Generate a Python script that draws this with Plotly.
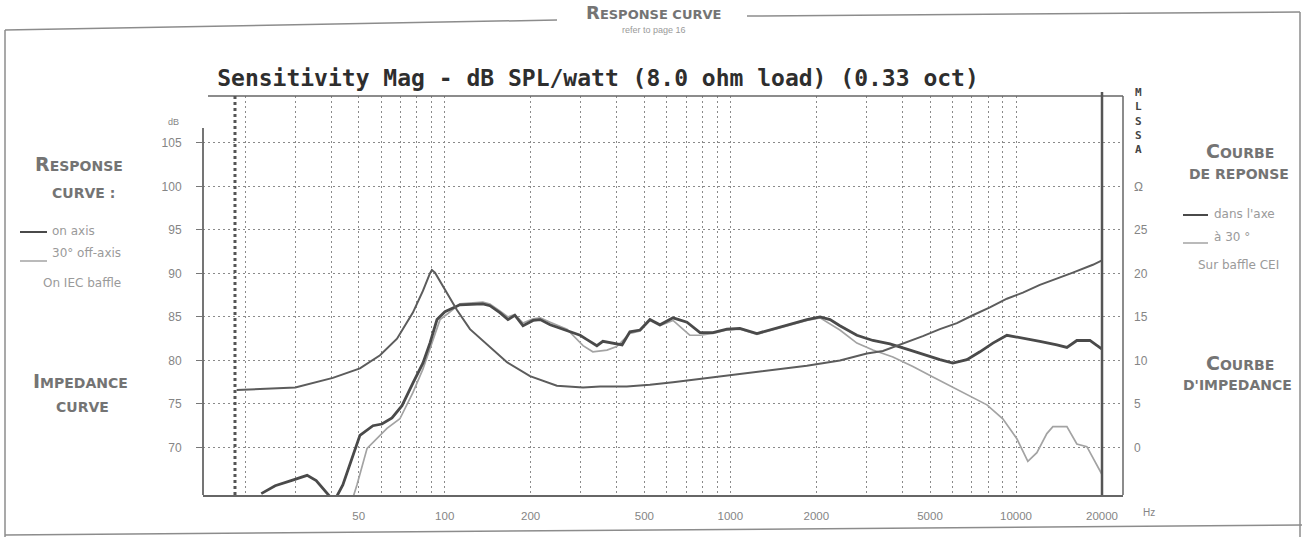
import plotly.graph_objects as go

# ---------------- data ----------------
# on-axis response (Hz, dB SPL)
FREQ_ON = [22.8, 25.5, 29.0, 33.0, 35.5, 38.5, 41.0, 44.0, 50.5, 56.1, 60.3, 65.4, 70.9,
           77.4, 83.9, 88.8, 94.0, 100.2, 113, 136, 144, 156, 166.5, 176, 188, 204, 216,
           234, 268, 298, 315, 341, 358, 388, 418, 445, 483, 523, 567, 630, 705, 783,
           869, 973, 1080, 1239, 1410, 1616, 1853, 2061, 2234, 2418, 2773, 3155, 3619,
           4150, 4720, 5415, 6010, 6730, 7475, 8300, 9290, 10570, 12120, 13900, 15070,
           16330, 18140, 20000]
SPL_ON = [64.7, 65.6, 66.2, 66.8, 66.2, 64.9, 63.8, 65.7, 71.4, 72.5, 72.7, 73.4, 74.8,
          77.4, 79.7, 82.0, 84.7, 85.6, 86.4, 86.5, 86.3, 85.5, 84.7, 85.2, 84.0, 84.6, 84.7,
          84.1, 83.4, 82.9, 82.4, 81.7, 82.2, 82.0, 81.8, 83.3, 83.5, 84.7, 84.1, 84.9, 84.4, 83.2,
          83.2, 83.6, 83.7, 83.1, 83.6, 84.2, 84.7, 85.0, 84.7, 84.0, 82.9, 82.3, 81.9,
          81.3, 80.7, 80.1, 79.7, 80.1, 81.0, 82.0, 82.9, 82.6, 82.2, 81.8, 81.5,
          82.3, 82.3, 81.3]

# 30 degrees off-axis response (Hz, dB SPL)
FREQ_OFF = [47, 49.3, 53.5, 62.8, 69.7, 77.4, 83.9, 91.0, 96.3, 102.7, 113, 136, 144, 156,
            166.5, 176, 188, 204, 216, 234, 268, 305, 330, 370, 400, 445, 483, 523, 567,
            630, 721, 783, 869, 973, 1080, 1239, 1410, 1616, 1853, 2061, 2418, 2773, 3155,
            3707, 4355, 5117, 6010, 7060, 7910, 8990, 10070, 11000, 11830, 12820, 13460,
            15070, 16330, 17700, 20000]
SPL_OFF = [63.5, 65.7, 69.9, 72.2, 73.3, 76.3, 79.0, 82.4, 84.7, 85.4, 86.5, 86.7, 86.5, 85.7,
           85.0, 85.3, 84.3, 84.8, 84.9, 84.4, 83.6, 81.7, 81.0, 81.2, 81.6, 83.1, 83.4, 84.6, 84.0,
           84.6, 82.9, 82.9, 83.1, 83.5, 83.6, 83.0, 83.5, 84.1, 84.6, 84.9, 83.5, 82.0, 81.2,
           80.4, 79.3, 78.1, 76.9, 75.7, 74.9, 73.3, 71.0, 68.4, 69.4, 71.6, 72.4,
           72.4, 70.4, 70.1, 66.9]

# impedance (Hz, ohm)
FREQ_Z = [18.7, 30, 40.6, 50.5, 59.4, 68.1, 77.4, 83.9, 88.8, 90.2, 92.5, 98.6, 110.4, 122.6,
          140.6, 165.2, 198.9, 247, 305, 350, 434, 523, 630, 828, 1080, 1410, 1853, 2418,
          3006, 3420, 4150, 4720, 5415, 6210, 7060, 8100, 9290, 10570, 12120, 13900, 15810,
          18580, 20000]
OHM_Z = [6.6, 6.9, 8.0, 9.1, 10.6, 12.5, 15.5, 18.0, 20.0, 20.4, 20.1, 18.5, 15.8, 13.6,
         11.9, 9.8, 8.2, 7.1, 6.9, 7.0, 7.0, 7.2, 7.5, 8.0, 8.4, 8.9, 9.4, 10.0,
         10.8, 11.1, 12.1, 12.8, 13.6, 14.3, 15.2, 16.1, 17.1, 17.8, 18.7, 19.4, 20.1,
         21.0, 21.5]

# axes / ticks
X_TICKS = [50, 100, 200, 500, 1000, 2000, 5000, 10000, 20000]
X_TICK_TEXT = ["50", "100", "200", "500", "1000", "2000", "5000", "10000", "20000"]
X_MINOR = [20, 30, 40, 60, 70, 80, 90, 300, 400, 600, 700, 800, 900,
           3000, 4000, 6000, 7000, 8000, 9000]
DB_TICKS = [70, 75, 80, 85, 90, 95, 100, 105]
OHM_TICKS = [0, 5, 10, 15, 20, 25, 30]
OHM_TICK_TEXT = ["0", "5", "10", "15", "20", "25", "Ω"]
LOW_LIMIT_HZ = 18.45
HIGH_LIMIT_HZ = 20000
OHM_OFFSET = 70  # 0 ohm sits on the 70 dB grid line

# ---------------- layout helpers ----------------
W, H = 1302, 537
ML, MR, MT, MB = 203, 179, 96, 42
PW = W - ML - MR
PH = H - MT - MB
Y_RANGE = [64.54, 110.4]
X_RANGE = [1.154, 4.3745]


def px(x):
    return (x - ML) / PW


def py(y):
    return (H - MB - y) / PH


GREY_TXT = "#858585"
HEAD_TXT = "#747474"
SMALL_TXT = "#9a9a9a"
SANS = "Liberation Sans, Arial, sans-serif"
WIDE = "DejaVu Sans, Verdana, sans-serif"
GRID_COL = "#8a8a8a"
GRID_DASH = "2px,3px"

fig = go.Figure()

fig.add_trace(go.Scatter(x=FREQ_Z, y=OHM_Z, yaxis="y2", mode="lines",
                         line=dict(color="#5c5c5c", width=2), name="impedance",
                         showlegend=False))
fig.add_trace(go.Scatter(x=FREQ_OFF, y=SPL_OFF, mode="lines",
                         line=dict(color="#a3a3a3", width=1.7), name="30° off-axis",
                         showlegend=False))
fig.add_trace(go.Scatter(x=FREQ_ON, y=SPL_ON, mode="lines",
                         line=dict(color="#4a4a4a", width=2.8), name="on axis",
                         showlegend=False))

grid = dict(gridcolor=GRID_COL, griddash=GRID_DASH, gridwidth=1)

fig.update_layout(
    width=W, height=H,
    margin=dict(l=ML, r=MR, t=MT, b=MB, pad=0),
    paper_bgcolor="white", plot_bgcolor="white",
    showlegend=False,
    title=dict(text="Sensitivity Mag - dB SPL/watt (8.0 ohm load) (0.33 oct)",
               x=598 / W, xref="container", xanchor="center",
               y=1 - 78 / H, yref="container", yanchor="middle",
               font=dict(family="DejaVu Sans Mono, monospace", size=23,
                         color="#2e2e2e", weight="bold")),
    xaxis=dict(type="log", range=X_RANGE, tickmode="array", tickvals=X_TICKS,
               ticktext=X_TICK_TEXT, showgrid=True, **grid,
               minor=dict(tickmode="array", tickvals=X_MINOR, showgrid=True,
                          gridcolor=GRID_COL, griddash=GRID_DASH, gridwidth=1, ticks=""),
               ticks="", showline=True, linecolor="#666666", linewidth=2,
               ticklabelstandoff=9, automargin=False,
               tickfont=dict(family=SANS, size=11.5, color=GREY_TXT),
               zeroline=False, fixedrange=True),
    yaxis=dict(range=Y_RANGE, tickmode="array", tickvals=DB_TICKS, showgrid=True, **grid,
               ticks="outside", ticklen=6, tickcolor="#777777", tickwidth=1,
               showline=False, ticklabelstandoff=12, automargin=False,
               tickfont=dict(family=SANS, size=12, color=GREY_TXT),
               zeroline=False, fixedrange=True),
    yaxis2=dict(overlaying="y", side="right",
                range=[Y_RANGE[0] - OHM_OFFSET, Y_RANGE[1] - OHM_OFFSET],
                tickmode="array", tickvals=OHM_TICKS, ticktext=OHM_TICK_TEXT,
                showgrid=False, ticks="", showline=False, ticklabelstandoff=10,
                automargin=False,
                tickfont=dict(family=SANS, size=12, color=GREY_TXT),
                zeroline=False, fixedrange=True),
)

shapes = []
frame = dict(color="#8c8c8c", width=1.5)
# outer page frame
shapes.append(dict(type="line", xref="paper", yref="paper", x0=px(5), y0=py(30), x1=px(5), y1=py(537), line=frame))
shapes.append(dict(type="line", xref="paper", yref="paper", x0=px(5), y0=py(30), x1=px(557), y1=py(20), line=frame))
shapes.append(dict(type="line", xref="paper", yref="paper", x0=px(747), y0=py(16), x1=px(1300), y1=py(12), line=frame))
shapes.append(dict(type="line", xref="paper", yref="paper", x0=px(1300), y0=py(12), x1=px(1300), y1=py(537), line=frame))
shapes.append(dict(type="line", xref="paper", yref="paper", x0=px(5), y0=py(535), x1=px(1302), y1=py(525), line=frame))
# plot box
box = dict(color="#666666", width=1.5)
shapes.append(dict(type="line", xref="paper", yref="paper", x0=px(208), y0=1, x1=1, y1=1, line=box))
shapes.append(dict(type="line", xref="paper", yref="paper", x0=1, y0=0, x1=1, y1=1, line=box))
shapes.append(dict(type="line", xref="paper", yref="paper", x0=0, y0=0, x1=0, y1=py(128),
                   line=dict(color="#666666", width=1.8)))
# measurement limits
shapes.append(dict(type="line", xref="x", yref="paper", x0=HIGH_LIMIT_HZ, x1=HIGH_LIMIT_HZ,
                   y0=0, y1=1.01, line=dict(color="#555555", width=2.5)))
shapes.append(dict(type="line", xref="x", yref="paper", x0=LOW_LIMIT_HZ, x1=LOW_LIMIT_HZ,
                   y0=0, y1=1, line=dict(color="#555555", width=3, dash="dot")))
# legend samples
shapes.append(dict(type="line", xref="paper", yref="paper", x0=px(20), x1=px(47), y0=py(232), y1=py(232),
                   line=dict(color="#4a4a4a", width=2)))
shapes.append(dict(type="line", xref="paper", yref="paper", x0=px(20), x1=px(47), y0=py(261), y1=py(261),
                   line=dict(color="#a3a3a3", width=1.5)))
shapes.append(dict(type="line", xref="paper", yref="paper", x0=px(1183), x1=px(1208), y0=py(215), y1=py(215),
                   line=dict(color="#4a4a4a", width=2)))
shapes.append(dict(type="line", xref="paper", yref="paper", x0=px(1183), x1=px(1208), y0=py(243), y1=py(243),
                   line=dict(color="#a3a3a3", width=1.5)))
fig.update_layout(shapes=shapes)


def note(text, x, y, size=11, color=GREY_TXT, anchor="center", family=SANS, bold=False):
    fig.add_annotation(text=text, x=px(x), y=py(y), xref="paper", yref="paper",
                       xanchor=anchor, yanchor="middle", showarrow=False,
                       font=dict(family=family, size=size, color=color,
                                 weight="bold" if bold else "normal"))


def smallcaps(word, small):
    return word[0] + "<span style='font-size:%dpx'>%s</span>" % (small, word[1:])


# header
note(smallcaps("RESPONSE CURVE", 13), 653, 13, size=18, color=HEAD_TXT, family=WIDE, bold=True)
note("refer to page 16", 654, 30, size=9, color=SMALL_TXT)
# axis units
note("dB", 173, 122, size=9, color=GREY_TXT)
note("Hz", 1149, 512, size=10, color=GREY_TXT)
note("M<br>L<br>S<br>S<br>A", 1138, 121, size=11, color="#444444",
     family="DejaVu Sans Mono, monospace", bold=True)
# left side texts
note(smallcaps("RESPONSE", 14), 79, 164, size=19, color=HEAD_TXT, family=WIDE, bold=True)
note("CURVE :", 83, 193, size=14, color=HEAD_TXT, family=WIDE, bold=True)
note("on axis", 50, 231, size=12, anchor="left", color=SMALL_TXT, family=WIDE)
note("30° off-axis", 50, 253, size=12, anchor="left", color=SMALL_TXT, family=WIDE)
note("On IEC baffle", 82, 283, size=12, color=SMALL_TXT, family=WIDE)
note(smallcaps("IMPEDANCE", 14), 81, 381, size=19, color=HEAD_TXT, family=WIDE, bold=True)
note("CURVE", 82, 407, size=14, color=HEAD_TXT, family=WIDE, bold=True)
# right side texts
note(smallcaps("COURBE", 14), 1240, 151, size=19, color=HEAD_TXT, family=WIDE, bold=True)
note("DE REPONSE", 1239, 174, size=14, color=HEAD_TXT, family=WIDE, bold=True)
note("dans l'axe", 1212, 214, size=12, anchor="left", color=SMALL_TXT, family=WIDE)
note("à 30 °", 1212, 237, size=12, anchor="left", color=SMALL_TXT, family=WIDE)
note("Sur baffle CEI", 1238, 265, size=12, color=SMALL_TXT, family=WIDE)
note(smallcaps("COURBE", 14), 1240, 363, size=19, color=HEAD_TXT, family=WIDE, bold=True)
note("D'IMPEDANCE", 1237, 385, size=14, color=HEAD_TXT, family=WIDE, bold=True)

fig.write_html("out.html",
               config={"displayModeBar": False, "staticPlot": True},
               post_script="document.body.style.margin='0px';"
                           "document.body.style.overflow='hidden';")
